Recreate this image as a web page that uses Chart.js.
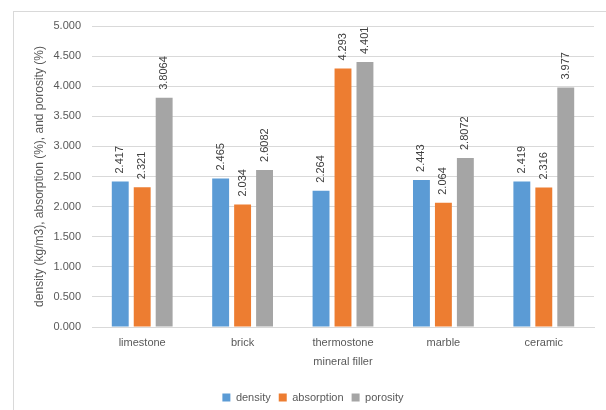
<!DOCTYPE html>
<html>
<head>
<meta charset="utf-8">
<script src="https://cdn.jsdelivr.net/npm/chart.js@4"></script>
<style>
    body { margin: 0; background: #fff; }
    #wrap { position: relative; width: 606px; height: 410px; overflow: hidden; }
    #frame { position: absolute; left: 13px; top: 11px; width: 700px; height: 500px;
             border-left: 1px solid #d9d9d9; border-top: 1px solid #d9d9d9; }
    canvas { position: absolute; left: 0; top: 0; }
</style>
</head>
<body>
<div id="wrap">
    <div id="frame"></div>
    <canvas id="fillerChart" width="606" height="410"></canvas>
</div>
<script>
const fillers = ['limestone', 'brick', 'thermostone', 'marble', 'ceramic'];
const density = [2.417, 2.465, 2.264, 2.443, 2.419];
const absorption = [2.321, 2.034, 4.293, 2.064, 2.316];
const porosity = [3.8064, 2.6082, 4.401, 2.8072, 3.977];
const densityText = ['2.417', '2.465', '2.264', '2.443', '2.419'];
const absorptionText = ['2.321', '2.034', '4.293', '2.064', '2.316'];
const porosityText = ['3.8064', '2.6082', '4.401', '2.8072', '3.977'];

const FONT = "'Liberation Sans', Arial, sans-serif";

// value labels written upward above each bar
const barLabels = {
    id: 'barLabels',
    afterDatasetsDraw(chart) {
        const c = chart.ctx;
        c.save();
        c.font = '11px ' + FONT;
        c.fillStyle = '#404040';
        c.textAlign = 'left';
        c.textBaseline = 'middle';
        chart.data.datasets.forEach((ds, i) => {
            chart.getDatasetMeta(i).data.forEach((bar, j) => {
                c.save();
                c.translate(bar.x, bar.y - 8);
                c.rotate(-Math.PI / 2);
                c.fillText(ds.labelText[j], 0, 0);
                c.restore();
            });
        });
        c.restore();
    }
};

new Chart(document.getElementById('fillerChart').getContext('2d'), {
    type: 'bar',
    data: {
        labels: fillers,
        datasets: [
            { label: 'density', data: density, labelText: densityText, backgroundColor: '#5B9BD5' },
            { label: 'absorption', data: absorption, labelText: absorptionText, backgroundColor: '#ED7D31' },
            { label: 'porosity', data: porosity, labelText: porosityText, backgroundColor: '#A5A5A5' }
        ]
    },
    options: {
        responsive: false,
        animation: false,
        categoryPercentage: 0.656,
        barPercentage: 0.77,
        layout: { padding: { top: 26, right: 12, bottom: -3, left: 32 } },
        scales: {
            x: {
                grid: { display: false },
                border: { color: '#d9d9d9' },
                ticks: { color: '#595959', font: { family: FONT, size: 11 }, padding: 1 },
                title: { display: true, text: 'mineral filler', color: '#595959',
                         font: { family: FONT, size: 11 }, padding: { top: 2, bottom: 15 } },
                afterFit(s) { s.height = 57; }
            },
            y: {
                min: 0,
                max: 5,
                ticks: { stepSize: 0.5, color: '#595959', font: { family: FONT, size: 11 },
                         padding: 11, callback: v => v.toFixed(3) },
                grid: { color: '#d9d9d9', drawTicks: false },
                border: { display: false },
                title: { display: true, text: 'density (kg/m3), absorption (%), and porosity (%)',
                         color: '#595959', font: { family: FONT, size: 12 }, padding: { top: 0, bottom: 0 } },
                afterFit(s) { s.width = 60; }
            }
        },
        plugins: {
            legend: {
                position: 'bottom',
                labels: { color: '#595959', font: { family: FONT, size: 11 },
                          boxWidth: 8, boxHeight: 8, padding: 8 }
            },
            tooltip: { enabled: false }
        }
    },
    plugins: [barLabels]
});
</script>
</body>
</html>
